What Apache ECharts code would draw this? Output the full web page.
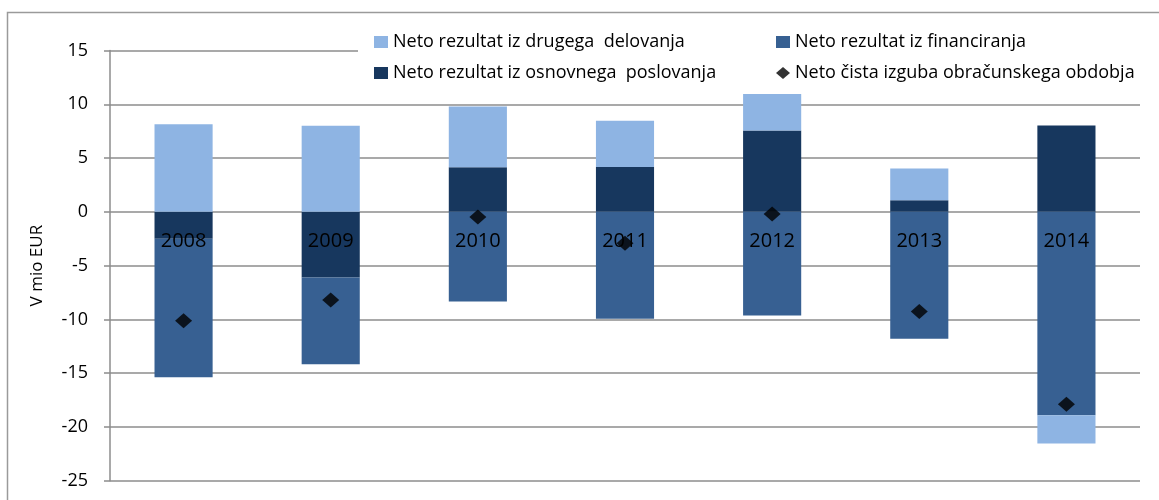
<!DOCTYPE html>
<html>
<head>
<meta charset="utf-8">
<script src="https://cdn.jsdelivr.net/npm/echarts@6/dist/echarts.min.js"></script>
<style>html,body{margin:0;padding:0;background:#fff}#c{width:1159px;height:500px}</style>
</head>
<body>
<div id="c"></div>
<script>
var categories = ['2008', '2009', '2010', '2011', '2012', '2013', '2014'];
var osnovno = [-2.5, -6.1, 4.15, 4.17, 7.56, 1.08, 8.03];
var financiranje = [-12.87, -8.08, -8.33, -9.94, -9.63, -11.81, -18.92];
var drugo = [8.15, 8.0, 5.65, 4.29, 3.4, 2.94, -2.62];
var cista = [-10.12, -8.2, -0.49, -2.93, -0.21, -9.26, -17.9];
var yTicks = [-25, -20, -15, -10, -5, 0, 5, 10, 15];

var names = {
  osn: 'Neto rezultat iz osnovnega  poslovanja',
  fin: 'Neto rezultat iz financiranja',
  dru: 'Neto rezultat iz drugega  delovanja',
  cis: 'Neto čista izguba obračunskega obdobja'
};
var FONT = 'Open Sans';
var chart = echarts.init(document.getElementById('c'), null, {renderer: 'canvas'});
var legendText = {fontFamily: FONT, fontSize: 18, color: '#000', lineHeight: 18};
chart.setOption({
  animation: false,
  backgroundColor: '#fff',
  grid: {left: 110, right: 19, top: 50.5, bottom: 19.3, containLabel: false, outerBoundsMode: 'none'},
  graphic: [
    {type: 'rect', z: 0, shape: {x: 7.5, y: 12.5, width: 1200, height: 600}, style: {fill: 'none', stroke: '#9a9a9a', lineWidth: 1.5}},
    {type: 'rect', z: 3, shape: {x: 358, y: 28, width: 800, height: 60}, style: {fill: '#fff'}}
  ],
  legend: [
    {
      orient: 'vertical', left: 374, top: 33, padding: 0, itemGap: 13,
      itemWidth: 14, itemHeight: 12,
      textStyle: legendText,
      data: [{name: names.dru, icon: 'rect'}, {name: names.osn, icon: 'rect'}]
    },
    {
      orient: 'vertical', left: 776, top: 33, padding: 0, itemGap: 13,
      itemWidth: 14, itemHeight: 12,
      textStyle: legendText,
      data: [{name: names.fin, icon: 'rect'}, {name: names.cis, icon: 'diamond', itemStyle: {color: '#000'}}]
    }
  ],
  xAxis: {
    type: 'category',
    data: categories,
    zlevel: 1,
    z: 10,
    offset: 0,
    axisLine: {show: true, onZero: true, lineStyle: {color: '#8c8c8c', opacity: 0}},
    axisTick: {show: false},
    axisLabel: {show: true, fontFamily: FONT, fontSize: 20, color: '#000', margin: 19, hideOverlap: false}
  },
  yAxis: {
    type: 'value',
    min: -25, max: 15, interval: 5,
    name: 'V mio EUR',
    nameLocation: 'middle',
    nameRotate: 90,
    nameGap: 64,
    nameTextStyle: {fontFamily: FONT, fontSize: 17, color: '#000'},
    axisLine: {show: true, onZero: false, lineStyle: {color: '#8c8c8c', width: 1.5}},
    axisTick: {show: true, length: 6, inside: false, lineStyle: {color: '#8c8c8c', width: 1.5}},
    axisLabel: {fontFamily: FONT, fontSize: 18, color: '#000', margin: 22,
      formatter: function (v) { return yTicks.indexOf(v) >= 0 ? String(v) : ''; }},
    splitLine: {show: true, lineStyle: {color: '#8c8c8c', width: 1.5}}
  },
  series: [
    {name: names.osn, type: 'bar', stack: 's', data: osnovno, barWidth: '39.5%', itemStyle: {color: '#17375E'}},
    {name: names.fin, type: 'bar', stack: 's', data: financiranje, itemStyle: {color: '#376092'}},
    {name: names.dru, type: 'bar', stack: 's', data: drugo, itemStyle: {color: '#8EB4E3'}},
    {name: names.cis, type: 'scatter', data: cista, symbol: 'diamond', symbolSize: [17, 15], z: 20, zlevel: 1, itemStyle: {color: '#000'}}
  ]
});
// Place the category axis on the zero line of the value axis (as in the original)
var y0 = chart.convertToPixel({yAxisIndex: 0}, 0);
var yBottom = chart.convertToPixel({yAxisIndex: 0}, -25);
chart.setOption({xAxis: {offset: y0 - yBottom}});
</script>
</body>
</html>
